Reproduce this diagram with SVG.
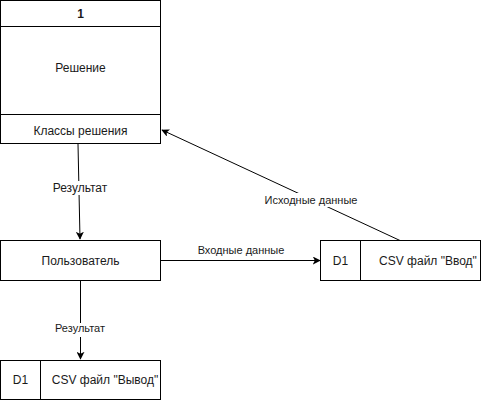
<svg xmlns="http://www.w3.org/2000/svg" width="482" height="402" viewBox="0 0 482 402">
<style>
.box{fill:#fff;stroke:#000;stroke-width:1}
.ln{fill:none;stroke:#000;stroke-width:1}
.t{font-family:"Liberation Sans",Arial,sans-serif;font-size:12px;fill:#1a1a1a;text-anchor:middle;dominant-baseline:central}
.s{font-size:11px}
.b{font-weight:bold}
.bg{fill:#fff}
</style>
<defs>
<marker id="arr" viewBox="0 0 10 10" refX="9" refY="5" markerWidth="8" markerHeight="8" markerUnits="userSpaceOnUse" orient="auto">
<path d="M0,0 L10,5 L0,10 L2.5,5 z" fill="#000"/>
</marker>
</defs>
<rect width="482" height="402" fill="#fff"/>
<g id="edges">
<path class="ln" d="M78,144 L80,239" marker-end="url(#arr)"/>
<rect class="bg" x="50" y="181" width="58" height="14"/>
<text class="t" x="80" y="188">Результат</text>
<path class="ln" d="M161,260.5 L320,260.5" marker-end="url(#arr)"/>
<text class="t s" x="241" y="250">Входные данные</text>
<path class="ln" d="M400,240.5 L162,130" marker-end="url(#arr)"/>
<rect class="bg" x="264" y="193" width="94" height="14"/>
<text class="t s" x="311" y="200">Исходные данные</text>
<path class="ln" d="M80.5,281 L80.5,359" marker-end="url(#arr)"/>
<rect class="bg" x="52" y="323" width="56" height="14"/>
<text class="t s" x="80" y="328">Результат</text>
</g>
<g id="process">
<rect class="box" x="0.5" y="0.5" width="160" height="143"/>
<line class="ln" x1="0.5" y1="26.5" x2="160.5" y2="26.5"/>
<line class="ln" x1="0.5" y1="114.5" x2="160.5" y2="114.5"/>
<text class="t b" x="80.5" y="14">1</text>
<text class="t" x="80.5" y="68">Решение</text>
<text class="t" x="80.5" y="131">Классы решения</text>
</g>
<g id="user">
<rect class="box" x="0.5" y="240.5" width="160" height="40"/>
<text class="t" x="80.5" y="261">Пользователь</text>
</g>
<g id="store-input">
<rect class="box" x="320.5" y="240.5" width="160" height="40"/>
<line class="ln" x1="360.5" y1="240.5" x2="360.5" y2="280.5"/>
<text class="t" x="340.5" y="261">D1</text>
<text class="t" x="428" y="261">CSV файл "Ввод"</text>
</g>
<g id="store-output">
<rect class="box" x="0.5" y="360.5" width="160" height="39"/>
<line class="ln" x1="40.5" y1="360.5" x2="40.5" y2="399.5"/>
<text class="t" x="20.5" y="380">D1</text>
<text class="t" x="105" y="380">CSV файл "Вывод"</text>
</g>
</svg>
